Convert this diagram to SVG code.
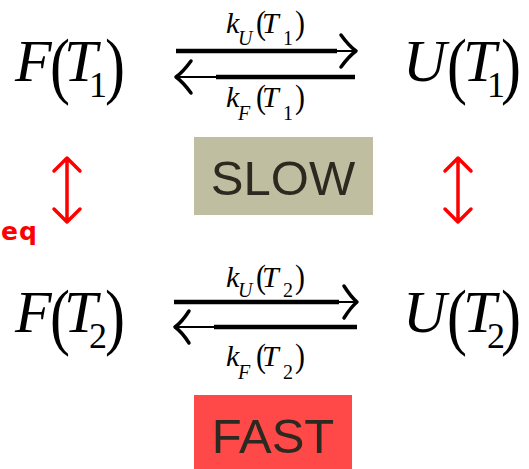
<svg xmlns="http://www.w3.org/2000/svg" width="529" height="469" viewBox="0 0 529 469">
<style>
.it{font-family:"Liberation Serif","Times New Roman",serif;font-style:italic;fill:#000}
.rm{font-family:"Liberation Serif","Times New Roman",serif;fill:#000}
.big{font-size:60px}
.sub{font-size:36px}
.lb{font-size:30px}
.lsub{font-size:20px}
.ln{stroke:#000;fill:none}
.head{stroke:#000;fill:none;stroke-width:3.5;stroke-linecap:round;stroke-linejoin:round}
.red{stroke:#ff0000;fill:none;stroke-width:3.5;stroke-linecap:round;stroke-linejoin:round}
.box{font-family:"Liberation Sans",Arial,sans-serif;font-size:49px;fill:#2b2920;text-anchor:middle}
</style>
<g id="F1">
<text class="it big" x="15" y="81">F</text>
<text class="rm big" transform="translate(50,90) scale(1,1.23)">(</text>
<text class="it big" x="64" y="81">T</text>
<text class="rm sub" x="89" y="97">1</text>
<text class="rm big" transform="translate(105,90) scale(1,1.23)">)</text>
</g>
<g id="U1">
<text class="it big" x="403" y="81">U</text>
<text class="rm big" transform="translate(447,90) scale(1,1.23)">(</text>
<text class="it big" x="463" y="81">T</text>
<text class="rm sub" x="487" y="97">1</text>
<text class="rm big" transform="translate(501,90) scale(1,1.23)">)</text>
</g>
<g id="F2">
<text class="it big" x="15" y="332">F</text>
<text class="rm big" transform="translate(50,341) scale(1,1.23)">(</text>
<text class="it big" x="64" y="332">T</text>
<text class="rm sub" x="89" y="348">2</text>
<text class="rm big" transform="translate(105,341) scale(1,1.23)">)</text>
</g>
<g id="U2">
<text class="it big" x="403" y="332">U</text>
<text class="rm big" transform="translate(447,341) scale(1,1.23)">(</text>
<text class="it big" x="463" y="332">T</text>
<text class="rm sub" x="487" y="348">2</text>
<text class="rm big" transform="translate(501,341) scale(1,1.23)">)</text>
</g>
<g id="slow"><rect x="194" y="137" width="179" height="78" fill="#bfbea1"/><text class="box" x="283" y="195">SLOW</text></g>
<g id="fast"><rect x="194" y="395" width="158" height="74" fill="#ff4848"/><text class="box" x="273" y="453">FAST</text></g>
<g id="eq"><text x="1" y="240" style="font-family:'DejaVu Sans',sans-serif;font-weight:bold;font-size:25px;fill:#ff0000;letter-spacing:1px">eq</text></g>
<g id="connectors">
<path class="ln" stroke-width="4.5" d="M176,51 H337"/><path class="ln" stroke-width="2" d="M337,51 H355"/>
<path class="head" d="M341,35 Q349,46 356,51 Q349,56 341,67"/>
<path class="ln" stroke-width="4.5" d="M216,77 H355"/><path class="ln" stroke-width="2" d="M178,77 H216"/>
<path class="head" d="M191,61 Q183,72 176,77 Q183,82 191,93"/>
<path class="ln" stroke-width="4.5" d="M174,302 H339"/><path class="ln" stroke-width="2" d="M339,302 H356"/>
<path class="head" d="M344,286 Q351,297 357,302 Q351,307 344,318"/>
<path class="ln" stroke-width="4.5" d="M214,327 H357"/><path class="ln" stroke-width="2" d="M176,327 H214"/>
<path class="head" d="M189,311 Q182,322 175,327 Q182,332 189,343"/>
<g id="lab1"><text class="it lb" x="226" y="33">k</text><text class="it lsub" x="238" y="45">U</text><text class="rm lb" transform="translate(256,34) scale(1,1.15)">(</text><text class="it lb" x="262" y="33">T</text><text class="rm lsub" x="283" y="45">1</text><text class="rm lb" transform="translate(295,34) scale(1,1.15)">)</text></g>
<g id="lab2"><text class="it lb" x="226" y="107">k</text><text class="it lsub" x="238" y="120">F</text><text class="rm lb" transform="translate(256,108) scale(1,1.15)">(</text><text class="it lb" x="262" y="107">T</text><text class="rm lsub" x="283" y="120">1</text><text class="rm lb" transform="translate(295,108) scale(1,1.15)">)</text></g>
<g id="lab3"><text class="it lb" x="226" y="287">k</text><text class="it lsub" x="238" y="297">U</text><text class="rm lb" transform="translate(256,288) scale(1,1.15)">(</text><text class="it lb" x="262" y="287">T</text><text class="rm lsub" x="283" y="297">2</text><text class="rm lb" transform="translate(295,288) scale(1,1.15)">)</text></g>
<g id="lab4"><text class="it lb" x="226" y="366">k</text><text class="it lsub" x="238" y="379">F</text><text class="rm lb" transform="translate(256,367) scale(1,1.15)">(</text><text class="it lb" x="262" y="366">T</text><text class="rm lsub" x="283" y="379">2</text><text class="rm lb" transform="translate(295,367) scale(1,1.15)">)</text></g>
<path class="red" d="M67,158 V222 M54,171 L67,158 L80,171 M54,209 L67,222 L80,209"/>
<path class="red" d="M458,158 V222 M445,171 L458,158 L471,171 M445,209 L458,222 L471,209"/>
</g>
</svg>
